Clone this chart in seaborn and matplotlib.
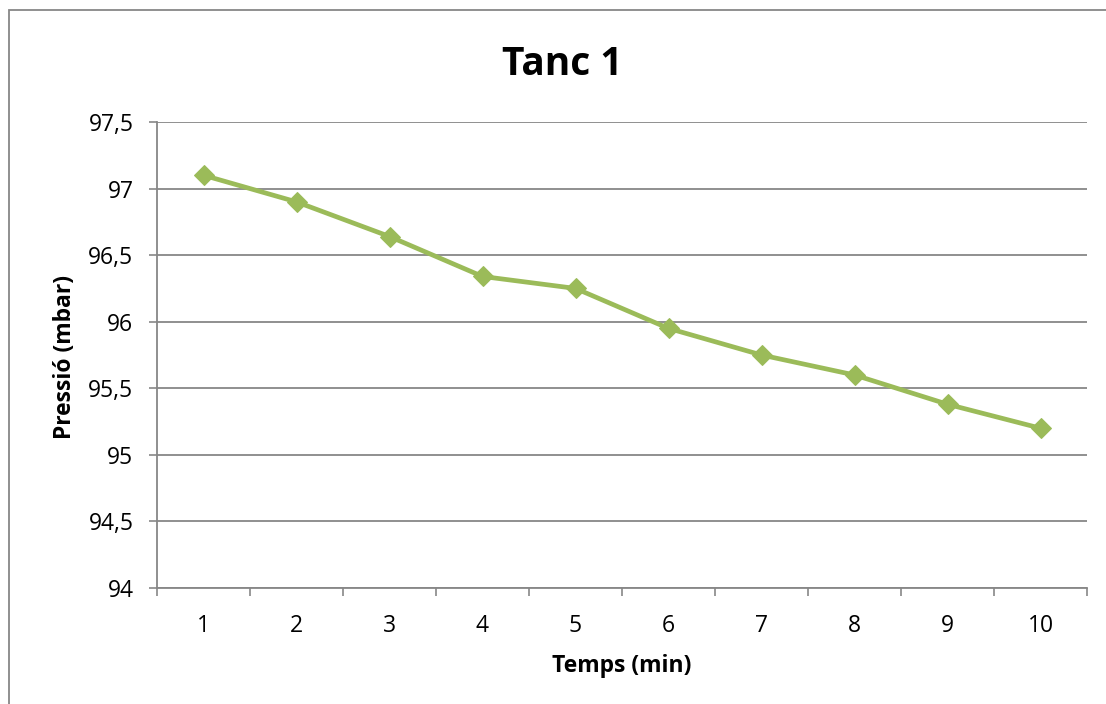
import matplotlib
matplotlib.use("Agg")
import matplotlib.pyplot as plt
import seaborn as sns
import pandas as pd
from matplotlib.patches import Rectangle
from matplotlib.ticker import FixedLocator, FuncFormatter

temps = [1, 2, 3, 4, 5, 6, 7, 8, 9, 10]
pressio = [97.1, 96.9, 96.64, 96.34, 96.25, 95.95, 95.75, 95.6, 95.38, 95.2]
yticks = [94, 94.5, 95, 95.5, 96, 96.5, 97, 97.5]

sns.set_style("white")
plt.rcParams['font.family'] = ['Open Sans', 'DejaVu Sans']
plt.rcParams['text.color'] = 'black'
plt.rcParams['xtick.color'] = 'black'
plt.rcParams['ytick.color'] = 'black'

df = pd.DataFrame({"Temps": temps, "Pressio": pressio})

fig = plt.figure(figsize=(11.06, 7.04), dpi=100)
ax = fig.add_axes([157/1106, 1-588/704, (1087-157)/1106, (588-122)/704])

grey = "#878787"
green = "#9BBB59"

sns.lineplot(data=df, x="Temps", y="Pressio", ax=ax, color=green, linewidth=3.4,
             marker="D", markersize=10, markeredgecolor=green, zorder=3)

ax.set_xlim(0.5, 10.5)
ax.set_ylim(94, 97.5)
ax.set_yticks(yticks)
ax.yaxis.set_major_formatter(FuncFormatter(lambda v, p: (f"{v:g}").replace(".", ",")))
ax.set_xticks(temps)
ax.set_xticklabels([str(t) for t in temps])
ax.xaxis.set_minor_locator(FixedLocator([t - 0.5 for t in temps] + [10.5]))
ax.tick_params(axis="x", which="major", length=0, pad=19, labelsize=16.5, labelcolor="black")
ax.tick_params(axis="x", which="minor", length=6, width=1.2, color=grey, direction="out")
ax.tick_params(axis="y", which="major", length=6, width=1.2, color=grey, direction="out",
               pad=11, labelsize=16.5, labelcolor="black")
ax.tick_params(bottom=True, left=True, which="both")
ax.tick_params(axis="x", which="major", bottom=False)

ax.grid(axis="y", color=grey, linewidth=1.3)
ax.set_axisbelow(True)
for s in ["top", "right"]:
    ax.spines[s].set_visible(False)
for s in ["left", "bottom"]:
    ax.spines[s].set_color(grey)
    ax.spines[s].set_linewidth(1.3)

ax.set_xlabel("")
ax.set_ylabel("")
fig.text(622/1106, 1-672/704, "Temps (min)", ha="center", va="baseline",
         fontsize=16.5, fontweight="bold", color="black")
fig.text(65/1106, 1-357/704, "Pressió (mbar)", ha="center", va="center",
         rotation=90, fontsize=16.5, fontweight="bold", color="black")
fig.text(562/1106, 1-75/704, "Tanc 1", ha="center", va="baseline",
         fontsize=28, fontweight="bold", color="black")

fig.patches.append(Rectangle((8.5/1106, -0.1), 1.2, 1 - 10.5/704 + 0.1,
                             transform=fig.transFigure, fill=False,
                             edgecolor=grey, linewidth=1.3))

fig.savefig("out.png", dpi=100)
